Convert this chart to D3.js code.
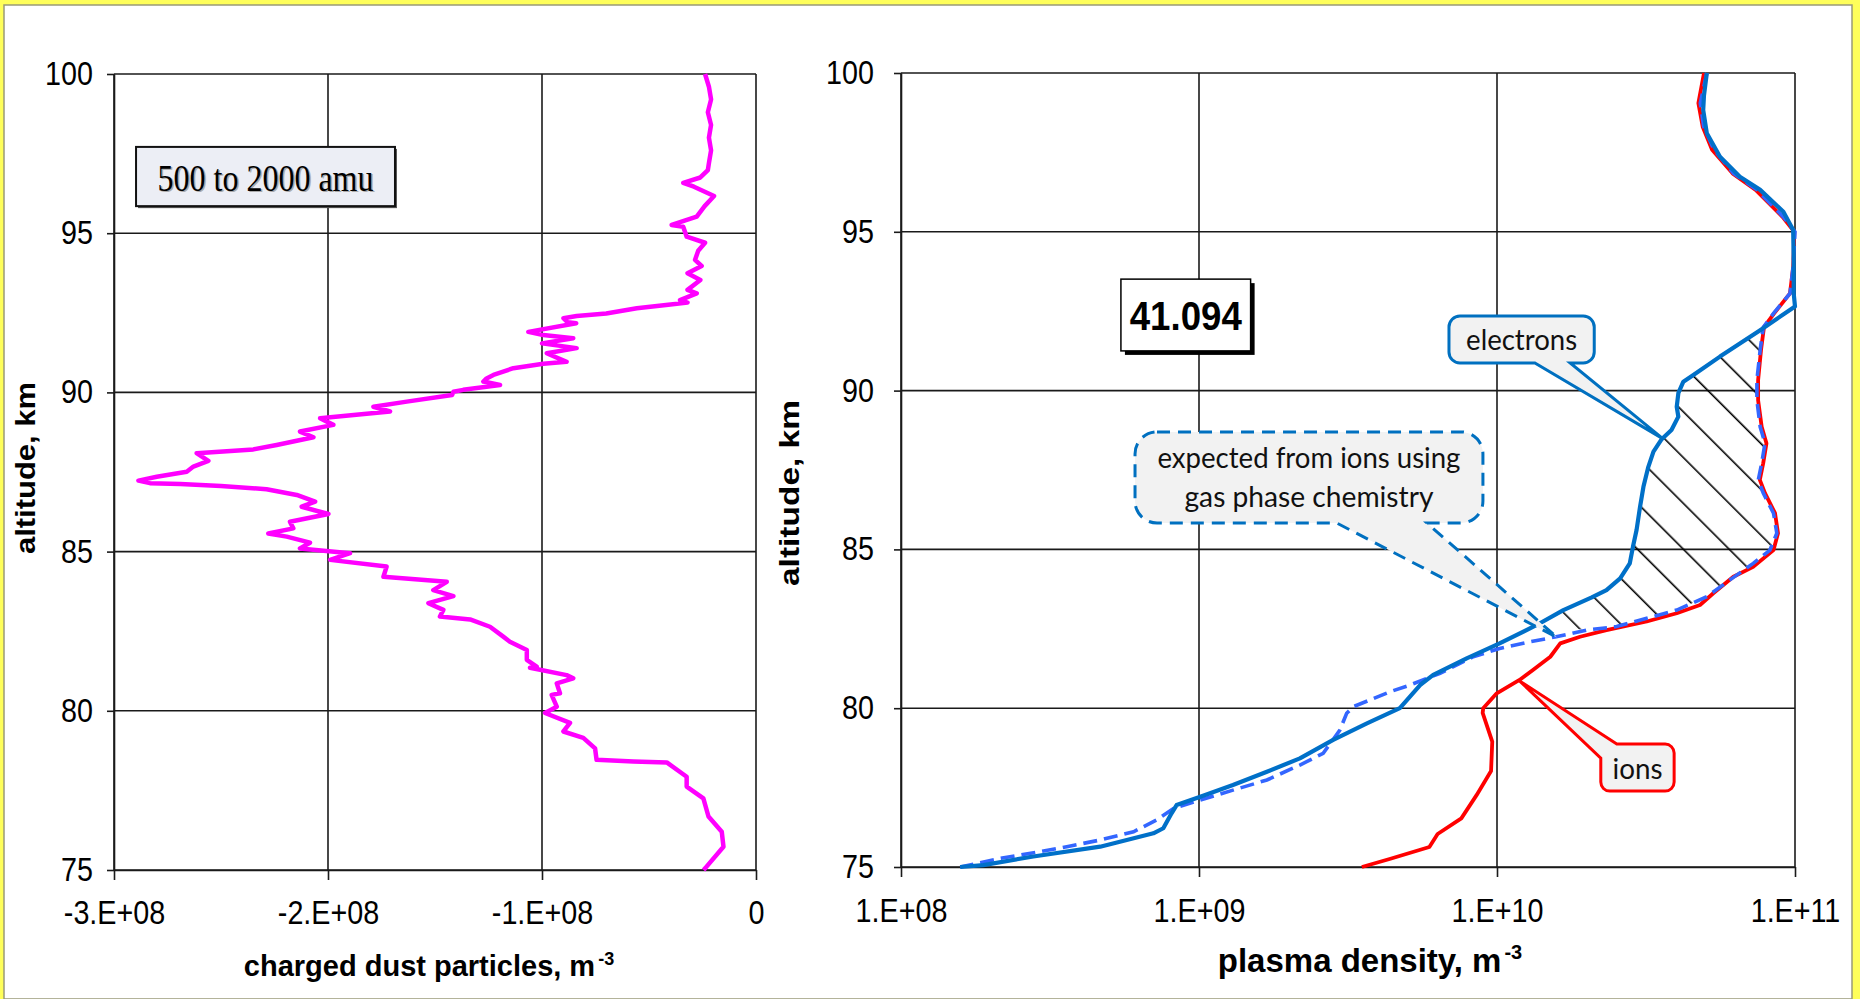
<!DOCTYPE html>
<html>
<head>
<meta charset="utf-8">
<script src="https://cdn.jsdelivr.net/npm/d3@7"></script>
<style>
body { margin: 0; background: #fff; }
svg { display: block; }
</style>
</head>
<body>
<script>
var W = 1860, H = 999;

// ---- left panel: charged dust (500 to 2000 amu), m^-3 ----
var altTicks = [75, 80, 85, 90, 95, 100];
var dustTicks = [-3e8, -2e8, -1e8, 0];
var dustTickLabels = ['-3.E+08', '-2.E+08', '-1.E+08', '0'];

var dustAlt = [100.0, 99.6, 99.2, 98.8, 98.4, 98.0, 97.6, 97.2, 96.98, 96.75, 96.58, 96.46, 96.17, 95.85, 95.52, 95.26, 95.2,
  94.89, 94.7, 94.45, 94.16, 93.97, 93.74, 93.53, 93.22, 93.11, 92.9, 92.82, 92.75, 92.64, 92.48, 92.4, 92.33, 92.2, 92.17,
  91.9, 91.8, 91.7, 91.54, 91.39, 91.23, 90.96, 90.9, 90.76, 90.55, 90.44, 90.34, 90.23, 90.08, 90.02, 89.92, 89.71, 89.55,
  89.4, 89.29, 89.19, 88.98, 88.77, 88.59, 88.35, 88.21, 88.09, 87.85, 87.67, 87.51, 87.35, 87.23, 87.15, 87.12, 87.06,
  86.96, 86.78, 86.57, 86.41, 86.18, 85.94, 85.73, 85.57, 85.47, 85.28, 85.1, 84.95, 84.74, 84.53, 84.21, 84.05, 83.79,
  83.6, 83.38, 83.17, 82.96, 82.87, 82.64, 82.33, 82.17, 81.91, 81.6, 81.39, 81.35, 81.12, 81.02, 80.86, 80.55, 80.5,
  80.13, 79.93, 79.62, 79.35, 79.15, 78.82, 78.46, 78.41, 78.38, 77.93, 77.62, 77.25, 76.68, 76.2, 75.73, 75.05, 75.0];
var dustVal = [-0.238e8, -0.22e8, -0.21e8, -0.225e8, -0.21e8, -0.22e8, -0.21e8, -0.22e8, -0.225e8, -0.26e8, -0.34e8, -0.29e8,
  -0.196e8, -0.24e8, -0.277e8, -0.394e8, -0.34e8, -0.324e8, -0.238e8, -0.27e8, -0.285e8, -0.254e8, -0.32e8, -0.26e8, -0.32e8,
  -0.277e8, -0.355e8, -0.32e8, -0.41e8, -0.557e8, -0.7e8, -0.838e8, -0.9e8, -0.88e8, -0.84e8, -1.064e8, -0.994e8, -0.854e8,
  -1.0e8, -0.838e8, -0.978e8, -0.885e8, -0.994e8, -1.134e8, -1.227e8, -1.259e8, -1.274e8, -1.196e8, -1.368e8, -1.414e8,
  -1.42e8, -1.632e8, -1.788e8, -1.71e8, -1.88e8, -2.037e8, -1.975e8, -2.131e8, -2.068e8, -2.24e8, -2.349e8, -2.614e8,
  -2.559e8, -2.629e8, -2.66e8, -2.8e8, -2.886e8, -2.832e8, -2.69e8, -2.5e8, -2.287e8, -2.146e8, -2.06e8, -2.123e8, -1.998e8,
  -2.178e8, -2.162e8, -2.279e8, -2.193e8, -2.084e8, -2.131e8, -1.897e8, -1.99e8, -1.726e8, -1.741e8, -1.445e8, -1.508e8,
  -1.414e8, -1.531e8, -1.461e8, -1.477e8, -1.336e8, -1.243e8, -1.181e8, -1.15e8, -1.071e8, -1.071e8, -1.025e8, -1.056e8,
  -0.885e8, -0.854e8, -0.931e8, -0.916e8, -0.955e8, -0.931e8, -0.986e8, -0.869e8, -0.9e8, -0.807e8, -0.752e8, -0.745e8,
  -0.573e8, -0.417e8, -0.324e8, -0.324e8, -0.246e8, -0.222e8, -0.16e8, -0.152e8, -0.238e8, -0.245e8];

// ---- right panel: plasma density, m^-3 ----
var plasmaTicks = [1e8, 1e9, 1e10, 1e11];
var plasmaTickLabels = ['1.E+08', '1.E+09', '1.E+10', '1.E+11'];

var elecAlt = [100.0, 99.3, 98.83, 98.1, 97.36, 96.73, 96.32, 95.63, 95.06, 94.11, 93.06, 92.65, 91.9, 91.07, 90.49, 90.28,
  89.92, 89.49, 89.18, 88.76, 88.47, 88.08, 87.6, 86.97, 86.34, 85.61, 85.09, 84.56, 84.09, 83.72, 83.49, 83.09, 82.62,
  82.04, 81.57, 81.05, 80.73, 80.0, 79.52, 79.0, 78.42, 78.0, 77.58, 77.21, 76.95, 76.69, 76.22, 76.06, 75.64, 75.33,
  75.06, 75.0];
var elecVal = [5.06e10, 4.95e10, 4.92e10, 5.06e10, 5.60e10, 6.53e10, 7.64e10, 9.14e10, 9.86e10, 9.9e10, 9.9e10, 1.0e11,
  7.64e10, 5.60e10, 4.56e10, 4.22e10, 4.06e10, 4.01e10, 4.06e10, 3.85e10, 3.57e10, 3.35e10, 3.22e10, 3.10e10, 3.02e10,
  2.94e10, 2.86e10, 2.79e10, 2.59e10, 2.33e10, 2.08e10, 1.67e10, 1.36e10, 1.02e10, 7.91e9, 6.11e9, 5.52e9, 4.72e9, 3.66e9,
  2.82e9, 2.18e9, 1.69e9, 1.30e9, 1.01e9, 8.41e8, 8.09e8, 7.59e8, 7.03e8, 4.66e8, 2.78e8, 1.89e8, 1.58e8];

var expAlt = [100.0, 99.05, 98.31, 97.58, 96.84, 96.32, 95.47, 95.0, 93.9, 93.06, 92.43, 92.0, 91.28, 90.33, 89.7, 88.86,
  88.34, 87.71, 87.19, 86.77, 86.14, 85.51, 84.98, 84.56, 84.04, 83.51, 83.09, 82.83, 82.57, 82.46, 82.25, 82.09, 81.88,
  81.62, 81.1, 80.73, 80.52, 80.26, 80.05, 79.84, 79.31, 78.58, 78.21, 77.74, 77.42, 77.11, 76.84, 76.48, 76.11, 75.85,
  75.64, 75.48, 75.27, 75.0];
var expVal = [5.06e10, 4.81e10, 4.94e10, 5.35e10, 6.22e10, 7.45e10, 9.14e10, 1.0e11, 9.86e10, 9.62e10, 8.47e10, 7.83e10,
  7.64e10, 7.45e10, 7.45e10, 7.64e10, 7.93e10, 7.73e10, 7.53e10, 7.83e10, 8.47e10, 8.69e10, 8.24e10, 7.24e10, 6.05e10,
  5.06e10, 4.01e10, 3.18e10, 2.52e10, 2.00e10, 1.58e10, 1.29e10, 1.02e10, 8.32e9, 6.44e9, 5.11e9, 4.38e9, 3.75e9, 3.30e9,
  3.13e9, 2.97e9, 2.61e9, 2.18e9, 1.69e9, 1.30e9, 1.01e9, 8.20e8, 7.21e8, 6.03e8, 4.66e8, 3.60e8, 2.92e8, 2.15e8, 1.58e8];

var ionAlt = [100.0, 99.05, 98.31, 97.58, 96.84, 96.32, 95.47, 95.0, 93.9, 93.06, 92.43, 92.0, 91.28, 90.33, 89.7, 88.86,
  88.34, 87.71, 87.19, 86.77, 86.14, 85.51, 84.98, 84.45, 84.14, 83.62, 83.25, 82.99, 82.73, 82.46, 82.25, 82.04, 81.62,
  81.2, 80.89, 80.47, 80.0, 79.85, 78.95, 78.02, 77.27, 76.53, 76.04, 75.63, 75.26, 75.0];
var ionVal = [4.95e10, 4.74e10, 4.90e10, 5.27e10, 6.17e10, 7.38e10, 9.08e10, 9.95e10, 9.86e10, 9.62e10, 8.51e10, 7.87e10,
  7.69e10, 7.52e10, 7.52e10, 7.73e10, 8.02e10, 7.82e10, 7.62e10, 7.93e10, 8.57e10, 8.77e10, 8.47e10, 7.24e10, 6.21e10,
  5.32e10, 4.80e10, 4.01e10, 3.18e10, 2.33e10, 1.90e10, 1.63e10, 1.51e10, 1.32e10, 1.19e10, 9.98e9, 8.99e9, 8.95e9, 9.64e9,
  9.55e9, 8.55e9, 7.59e9, 6.32e9, 5.93e9, 4.39e9, 3.52e9];

var zip = function(alts, vals){
    return alts.map(function(a, i){ return {alt: a, v: vals[i]}; });
};

// the original lettering is tall and narrow: set it bigger, then squeeze it sideways
var squeeze = function(sel, f){
    sel.each(function(){
        var len = this.getComputedTextLength();
        d3.select(this).attr('textLength', len * f).attr('lengthAdjust', 'spacingAndGlyphs');
    });
};
var fitTo = function(sel, w){
    sel.attr('textLength', w).attr('lengthAdjust', 'spacingAndGlyphs');
};

var svg = d3.select('body').append('svg').attr('width', W).attr('height', H);

// yellow frame around the picture
svg.append('rect').attr('width', W).attr('height', H).attr('fill', '#ffff5a');
svg.append('rect').attr('x', 4).attr('y', 5).attr('width', 1848).attr('height', H - 5)
    .attr('fill', '#fff').attr('stroke', '#9a9a78').attr('stroke-width', 1.5);

var defs = svg.append('defs');
defs.append('pattern').attr('id', 'hatch').attr('patternUnits', 'userSpaceOnUse')
    .attr('width', 32.4).attr('height', 10).attr('patternTransform', 'rotate(-45)')
  .append('line').attr('x1', 24.3).attr('x2', 24.3).attr('y1', -1).attr('y2', 11)
    .attr('stroke', '#000').attr('stroke-width', 1.6);

var tickFont = '"Liberation Sans", Arial, sans-serif';

var grid = function(g, x, y, xTicks, yTicks){
    g.selectAll('.gx').data(xTicks).enter().append('line')
        .attr('x1', function(d){ return x(d); }).attr('x2', function(d){ return x(d); })
        .attr('y1', y(75)).attr('y2', y(100))
        .attr('stroke', '#1a1a1a').attr('stroke-width', 1.6);
    g.selectAll('.gy').data(yTicks).enter().append('line')
        .attr('x1', x.range()[0]).attr('x2', x.range()[1])
        .attr('y1', function(d){ return y(d); }).attr('y2', function(d){ return y(d); })
        .attr('stroke', '#1a1a1a').attr('stroke-width', 1.6);
};

var axes = function(g, x, y, xTicks, xLabels, padX, padY){
    var ax = g.append('g').attr('transform', 'translate(0,' + y(75) + ')')
        .call(d3.axisBottom(x).tickValues(xTicks).tickSizeInner(10).tickSizeOuter(0).tickPadding(padX)
            .tickFormat(function(d, i){ return xLabels[i]; }));
    var ay = g.append('g').attr('transform', 'translate(' + x.range()[0] + ',0)')
        .call(d3.axisLeft(y).tickValues(altTicks).tickSizeInner(7).tickSizeOuter(0).tickPadding(padY)
            .tickFormat(d3.format('d')));
    [ax, ay].forEach(function(a){
        a.selectAll('path, line').attr('stroke', '#1a1a1a').attr('stroke-width', 1.6);
        a.selectAll('text').attr('font-family', tickFont).attr('font-size', 33).attr('fill', '#000');
        squeeze(a.selectAll('text'), 0.87);
    });
};

// axis title with an m^-3 superscript set as its own text just after it
var unitTitle = function(g, cx, y, size, str){
    var supSize = Math.round(size * 0.62);
    var t = g.append('text').attr('x', 0).attr('y', y)
        .attr('font-family', tickFont).attr('font-weight', 'bold').attr('font-size', size).text(str);
    var s = g.append('text').attr('x', 0).attr('y', y - Math.round(size * 0.38))
        .attr('font-family', tickFont).attr('font-weight', 'bold').attr('font-size', supSize).text('-3');
    var wMain = t.node().getComputedTextLength(), wSup = s.node().getComputedTextLength();
    var x0 = cx - (wMain + 3 + wSup) / 2;
    t.attr('x', x0);
    s.attr('x', x0 + wMain + 3);
};

// ================= left panel =================
var xDust = d3.scaleLinear().domain([-3e8, 0]).range([114, 756]);
var yDust = d3.scaleLinear().domain([75, 100]).range([870, 74]);
var gL = svg.append('g');
grid(gL, xDust, yDust, dustTicks, altTicks);
axes(gL, xDust, yDust, dustTicks, dustTickLabels, 21, 14);

var dustLine = d3.line().x(function(d){ return xDust(d.v); }).y(function(d){ return yDust(d.alt); });
gL.append('path').datum(zip(dustAlt, dustVal)).attr('d', dustLine)
    .attr('fill', 'none').attr('stroke', '#ff00ff').attr('stroke-width', 4.5).attr('stroke-linejoin', 'round');

// "500 to 2000 amu" box
var bx0 = xDust(-2.897e8), bx1 = xDust(-1.687e8), by0 = yDust(97.71), by1 = yDust(95.85);
gL.append('rect').attr('x', bx0 + 2).attr('y', by0 + 2).attr('width', bx1 - bx0).attr('height', by1 - by0).attr('fill', '#555');
gL.append('rect').attr('x', bx0).attr('y', by0).attr('width', bx1 - bx0).attr('height', by1 - by0)
    .attr('fill', '#eceef5').attr('stroke', '#111').attr('stroke-width', 2);
var amuShadow = gL.append('text').attr('x', (bx0 + bx1) / 2 + 1.5).attr('y', (by0 + by1) / 2 + 15.5)
    .attr('text-anchor', 'middle').attr('font-family', '"Liberation Serif", "Times New Roman", serif')
    .attr('font-size', 37).attr('fill', '#aaa').text('500 to 2000 amu');
var amu = gL.append('text').attr('x', (bx0 + bx1) / 2).attr('y', (by0 + by1) / 2 + 14)
    .attr('text-anchor', 'middle').attr('font-family', '"Liberation Serif", "Times New Roman", serif')
    .attr('font-size', 37).attr('fill', '#000').text('500 to 2000 amu');
fitTo(amuShadow, 216);
fitTo(amu, 216);

var yTitleL = gL.append('text').attr('transform', 'translate(35,468) rotate(-90)')
    .attr('text-anchor', 'middle').attr('font-family', tickFont)
    .attr('font-weight', 'bold').attr('font-size', 27).text('altitude, km');
fitTo(yTitleL, 172);

unitTitle(gL, 429, 976, 29, 'charged dust particles, m');

// ================= right panel =================
var xPl = d3.scaleLog().domain([1e8, 1e11]).range([901, 1795]);
var yPl = d3.scaleLinear().domain([75, 100]).range([867, 73]);
var gR = svg.append('g');
grid(gR, xPl, yPl, plasmaTicks, altTicks);
axes(gR, xPl, yPl, plasmaTicks, plasmaTickLabels, 22, 20);

var plLine = d3.line().x(function(d){ return xPl(d.v); }).y(function(d){ return yPl(d.alt); });
var elec = zip(elecAlt, elecVal), expd = zip(expAlt, expVal), ions = zip(ionAlt, ionVal);

// hatched gap between the electrons and the expected curve
var gap = elec.filter(function(d){ return d.alt <= 92.0 && d.alt >= 82.6; })
    .concat(expd.filter(function(d){ return d.alt <= 92.0 && d.alt >= 82.45; }).reverse());
gR.append('path').attr('d', plLine(gap) + 'Z')
    .attr('fill', 'url(#hatch)').attr('stroke', 'none');

gR.append('path').datum(ions).attr('d', plLine)
    .attr('fill', 'none').attr('stroke', '#ff0000').attr('stroke-width', 3.8).attr('stroke-linejoin', 'round');
gR.append('path').datum(expd).attr('d', plLine)
    .attr('fill', 'none').attr('stroke', '#3366ff').attr('stroke-width', 3.6).attr('stroke-dasharray', '14,7');
gR.append('path').datum(elec).attr('d', plLine)
    .attr('fill', 'none').attr('stroke', '#0070c8').attr('stroke-width', 4.2).attr('stroke-linejoin', 'round');

// "41.094" box
var kx0 = xPl(5.47e8), kx1 = xPl(1.49e9), ky0 = yPl(93.51), ky1 = yPl(91.25);
gR.append('rect').attr('x', kx0 + 4).attr('y', ky0 + 4).attr('width', kx1 - kx0).attr('height', ky1 - ky0).attr('fill', '#000');
gR.append('rect').attr('x', kx0).attr('y', ky0).attr('width', kx1 - kx0).attr('height', ky1 - ky0)
    .attr('fill', '#fff').attr('stroke', '#000').attr('stroke-width', 1.5);
var val = gR.append('text').attr('x', (kx0 + kx1) / 2).attr('y', (ky0 + ky1) / 2 + 15)
    .attr('text-anchor', 'middle').attr('font-family', tickFont).attr('font-weight', 'bold')
    .attr('font-size', 41).text('41.094');
fitTo(val, 112);

// callouts
var calloutFont = 'Lato, "Open Sans", sans-serif';
var bottomCallout = function(b, r, baseA, baseB, tip){
    return 'M' + (b.x0 + r) + ',' + b.y0 + 'H' + (b.x1 - r) +
        'A' + r + ',' + r + ' 0 0 1 ' + b.x1 + ',' + (b.y0 + r) + 'V' + (b.y1 - r) +
        'A' + r + ',' + r + ' 0 0 1 ' + (b.x1 - r) + ',' + b.y1 + 'H' + baseB +
        'L' + tip[0] + ',' + tip[1] + 'L' + baseA + ',' + b.y1 + 'H' + (b.x0 + r) +
        'A' + r + ',' + r + ' 0 0 1 ' + b.x0 + ',' + (b.y1 - r) + 'V' + (b.y0 + r) +
        'A' + r + ',' + r + ' 0 0 1 ' + (b.x0 + r) + ',' + b.y0 + 'Z';
};
var box = function(v0, v1, a0, a1){
    return {x0: xPl(v0), x1: xPl(v1), y0: yPl(a0), y1: yPl(a1)};
};
var note = function(x, y, str, w){
    var t = gR.append('text').attr('x', x).attr('y', y).attr('text-anchor', 'middle')
        .attr('font-family', calloutFont).attr('font-size', 29).attr('fill', '#111').text(str);
    fitTo(t, w);
};

var eb = box(6.90e9, 2.12e10, 92.35, 90.87);
gR.append('path').attr('d', bottomCallout(eb, 11, xPl(1.34e10), xPl(1.76e10), [xPl(3.61e10), yPl(88.48)]))
    .attr('fill', '#f2f2f2').attr('stroke', '#0070c0').attr('stroke-width', 3);
note((eb.x0 + eb.x1) / 2, eb.y1 - 13, 'electrons', 111);

var xb = box(6.10e8, 8.97e9, 88.7, 85.83);
gR.append('path').attr('d', bottomCallout(xb, 22, xPl(2.90e9), xPl(5.82e9), [xPl(1.59e10), yPl(82.23)]))
    .attr('fill', '#f2f2f2').attr('stroke', '#0070c0').attr('stroke-width', 3).attr('stroke-dasharray', '13,8');
note((xb.x0 + xb.x1) / 2, xb.y0 + 36, 'expected from ions using', 303);
note((xb.x0 + xb.x1) / 2, xb.y0 + 75, 'gas phase chemistry', 249);

var ib = box(2.23e10, 3.93e10, 78.87, 77.39), ir = 9, itip = [xPl(1.19e10), yPl(80.86)];
gR.append('path').attr('d',
    'M' + (ib.x0 + 16) + ',' + ib.y0 + 'H' + (ib.x1 - ir) +
    'A' + ir + ',' + ir + ' 0 0 1 ' + ib.x1 + ',' + (ib.y0 + ir) + 'V' + (ib.y1 - ir) +
    'A' + ir + ',' + ir + ' 0 0 1 ' + (ib.x1 - ir) + ',' + ib.y1 + 'H' + (ib.x0 + ir) +
    'A' + ir + ',' + ir + ' 0 0 1 ' + ib.x0 + ',' + (ib.y1 - ir) + 'V' + (ib.y0 + 14) +
    'L' + itip[0] + ',' + itip[1] + 'Z')
    .attr('fill', '#f2f2f2').attr('stroke', '#ff0000').attr('stroke-width', 3);
note((ib.x0 + ib.x1) / 2, ib.y1 - 12, 'ions', 50);

var yTitleR = gR.append('text').attr('transform', 'translate(799,493) rotate(-90)')
    .attr('text-anchor', 'middle').attr('font-family', tickFont)
    .attr('font-weight', 'bold').attr('font-size', 28).text('altitude, km');
fitTo(yTitleR, 186);

unitTitle(gR, 1370, 972, 33, 'plasma density, m');
</script>
</body>
</html>
